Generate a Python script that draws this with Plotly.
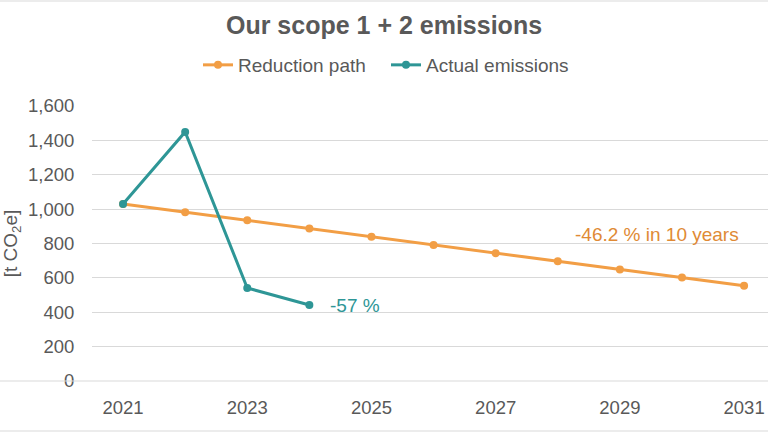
import plotly.graph_objects as go

years = [2021, 2022, 2023, 2024, 2025, 2026, 2027, 2028, 2029, 2030, 2031]
reduction_path = [1030, 982, 935, 887, 840, 792, 744, 697, 649, 602, 554]
actual_years = [2021, 2022, 2023, 2024]
actual_emissions = [1030, 1449, 541, 442]
x_ticks = [2021, 2023, 2025, 2027, 2029, 2031]
y_ticks = [0, 200, 400, 600, 800, 1000, 1200, 1400, 1600]

ORANGE = "#F29E45"
TEAL = "#2E9696"
GREY = "#595959"
FONT = "Liberation Sans, Arial, sans-serif"

fig = go.Figure()
fig.add_trace(go.Scatter(x=years, y=reduction_path, mode="lines+markers",
                         name="Reduction path",
                         line=dict(color=ORANGE, width=3),
                         marker=dict(color=ORANGE, size=8)))
fig.add_trace(go.Scatter(x=actual_years, y=actual_emissions, mode="lines+markers",
                         name="Actual emissions",
                         line=dict(color=TEAL, width=3),
                         marker=dict(color=TEAL, size=8)))

fig.add_annotation(x=2024.3, y=442, text="-57 %", showarrow=False, xanchor="left",
                   yanchor="middle", font=dict(color=TEAL, size=19, family=FONT))
fig.add_annotation(x=2029.6, y=855, text="-46.2 % in 10 years", showarrow=False,
                   xanchor="center", yanchor="middle",
                   font=dict(color="#E08A35", size=19, family=FONT))

fig.update_layout(
    width=768, height=432,
    margin=dict(l=92, r=0, t=106, b=51),
    paper_bgcolor="white", plot_bgcolor="white",
    font=dict(family=FONT, color=GREY, size=18),
    title=dict(text="<b>Our scope 1 + 2 emissions</b>", x=0.5, xanchor="center",
               y=1 - 25 / 432, yanchor="middle",
               font=dict(size=25, color=GREY, family=FONT)),
    legend=dict(orientation="h", x=(386 - 92) / 676, xanchor="center",
                y=1 + 41 / 275, yanchor="middle",
                font=dict(size=19, color=GREY, family=FONT),
                itemwidth=30, entrywidth=143, entrywidthmode="pixels",
                tracegroupgap=0, bgcolor="rgba(0,0,0,0)"),
    showlegend=True,
)
fig.update_xaxes(range=[2020.5, 2031.385], tickvals=x_ticks,
                 ticktext=[str(t) for t in x_ticks], showgrid=False, zeroline=False,
                 showline=False, ticks="outside", ticklen=10,
                 tickcolor="rgba(0,0,0,0)", tickfont=dict(size=18.5, color=GREY))
fig.update_yaxes(range=[0, 1600], tickvals=y_ticks, tickformat=",",
                 showgrid=True, gridcolor="#D9D9D9", gridwidth=1, zeroline=False,
                 showline=False, ticks="outside", ticklen=13,
                 tickcolor="rgba(0,0,0,0)", tickfont=dict(size=18.5, color=GREY),
                 title=dict(text="[t CO<sub>2</sub>e]", standoff=8,
                            font=dict(size=19, color=GREY)))

fig.add_shape(type="line", xref="paper", yref="paper", x0=-1, x1=2, y0=0, y1=0,
              line=dict(color="#D9D9D9", width=1))
fig.add_shape(type="line", xref="paper", yref="paper", x0=-92 / 676, x1=2,
              y0=1 + 105 / 275, y1=1 + 105 / 275, line=dict(color="#D9D9D9", width=1))
fig.add_shape(type="line", xref="paper", yref="paper", x0=-92 / 676, x1=2,
              y0=-50 / 275, y1=-50 / 275, line=dict(color="#D9D9D9", width=1))

fig.write_html("out.html")
